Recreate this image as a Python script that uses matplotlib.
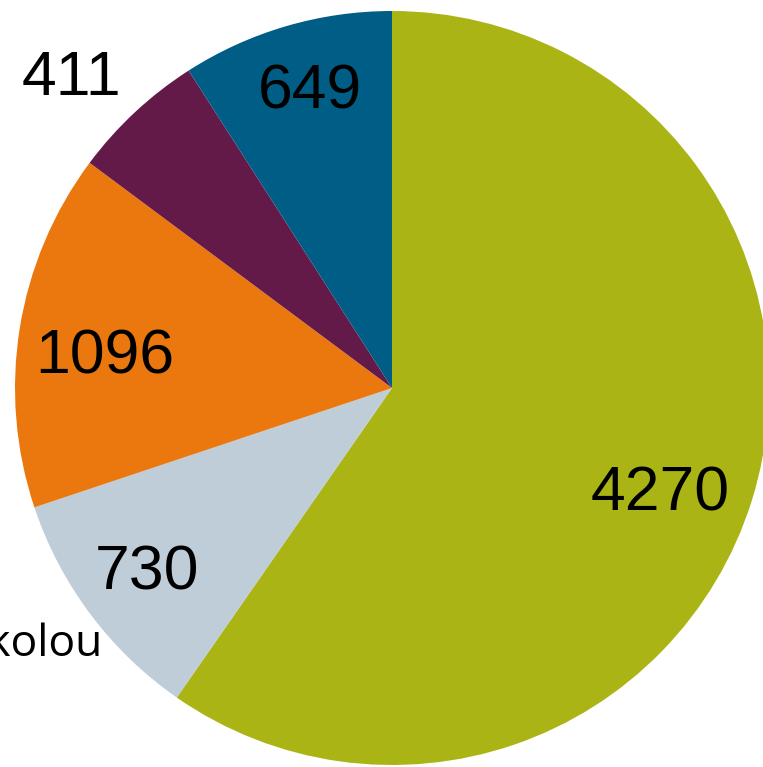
import numpy as np
import matplotlib

matplotlib.use("Agg")
import matplotlib.pyplot as plt

# %% DATA
values = [4270, 730, 1096, 411, 649]
colors = ["#ABB415", "#BFCDD9", "#EA780E", "#641A48", "#005E86"]
value_labels = ["4270", "730", "1096", "411", "649"]
category_label = "školou"

# label placement: distance from centre (in radii) and angle shift from wedge middle
label_dist = [0.764, 0.814, 0.766, 1.182, 0.815]
label_shift = [-4.2, 0.2, 2.9, 3.1, -0.8]

# %% FIGURE
W, H, dpi = 763, 767, 100
fig = plt.figure(figsize=(W / dpi, H / dpi), dpi=dpi)
ax = fig.add_axes([0, 0, 1, 1])

# pie centre and radius in pixels
cx, cy, r = 392, 388, 377

wedges, _ = ax.pie(
    values,
    colors=colors,
    startangle=90,
    counterclock=False,
    radius=1,
    wedgeprops=dict(linewidth=0),
)

# Value labels along wedge mid-angles
for w, lab, d, s in zip(wedges, value_labels, label_dist, label_shift):
    ang = np.deg2rad((w.theta1 + w.theta2) / 2 + s)
    ax.text(
        d * np.cos(ang),
        d * np.sin(ang),
        lab,
        ha="center",
        va="center",
        fontsize=45,
        family="Liberation Sans",
        color="black",
    )

# Category label of the light slice, cut off at the left edge
w = wedges[1]
ang = np.deg2rad((w.theta1 + w.theta2) / 2 + 6.0)
ax.text(
    1.046 * np.cos(ang),
    1.046 * np.sin(ang),
    category_label,
    ha="right",
    va="baseline",
    fontsize=32,
    family="Open Sans",
    color="black",
)

ax.set_xlim(-cx / r, (W - cx) / r)
ax.set_ylim((cy - H) / r, cy / r)
ax.set_axis_off()

fig.savefig("out.png", dpi=dpi)
